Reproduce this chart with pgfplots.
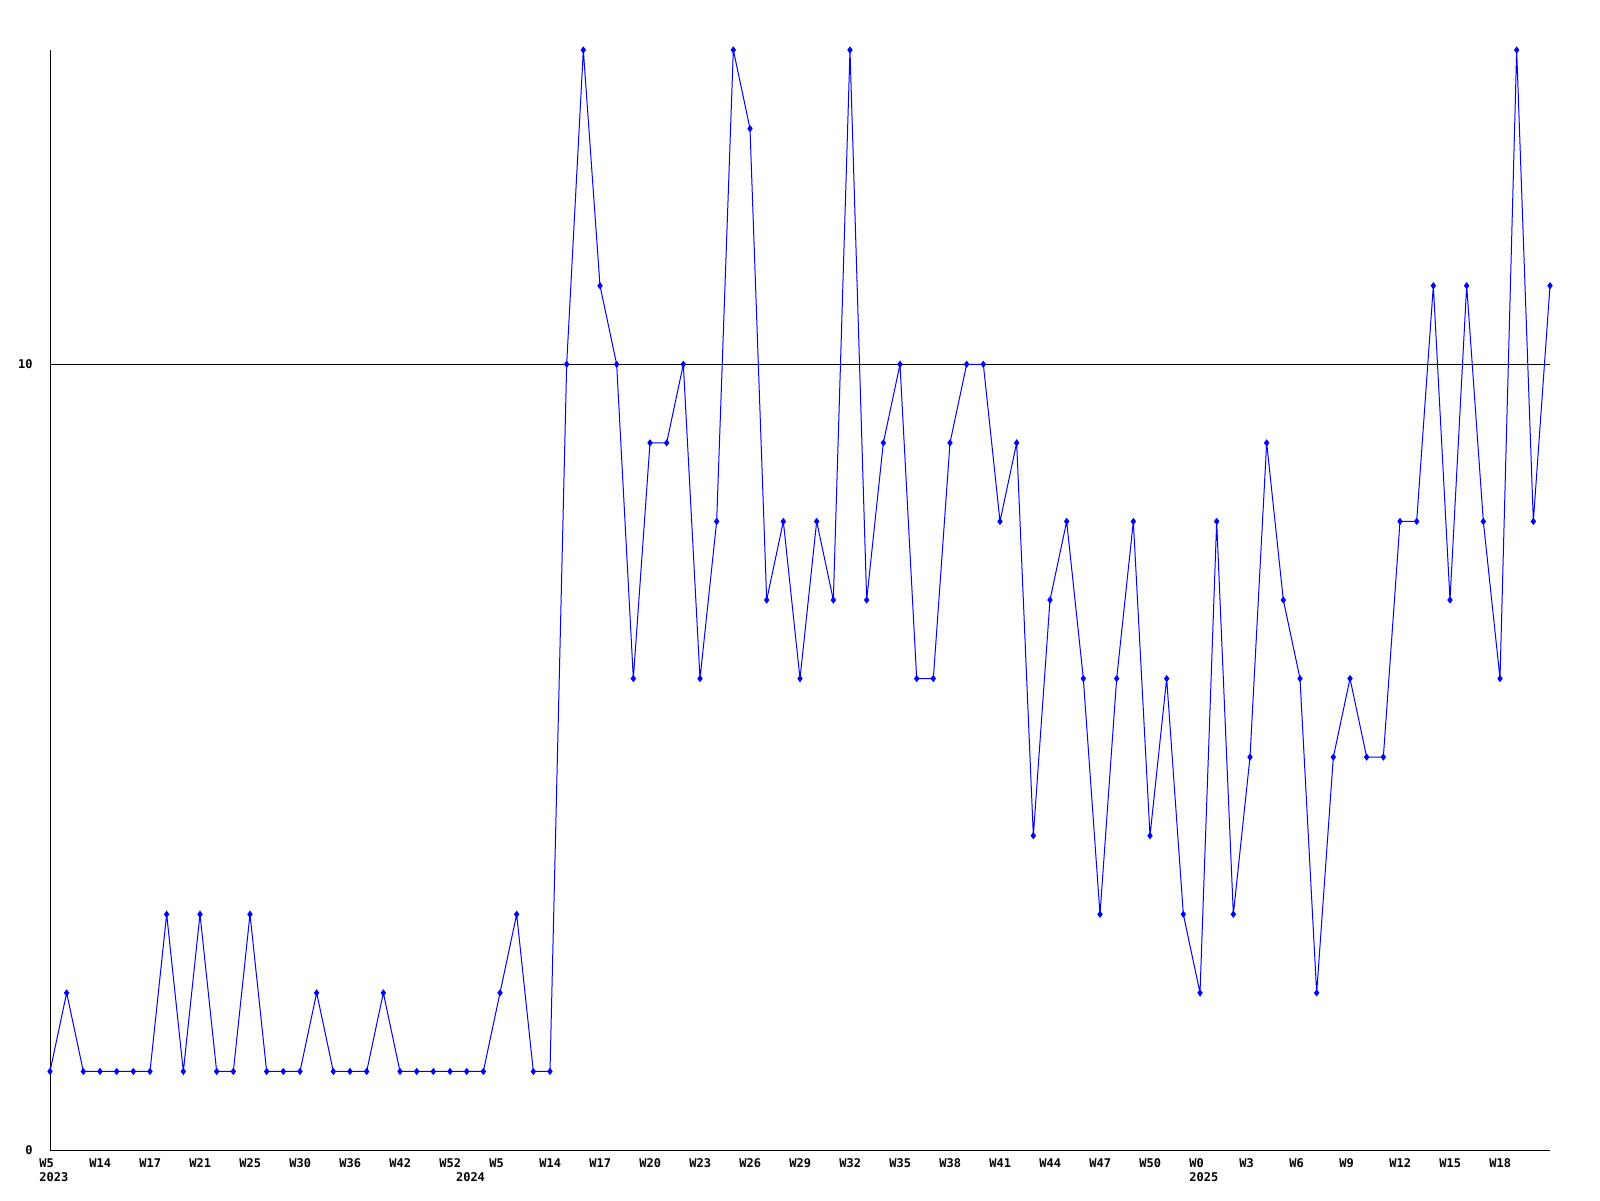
\documentclass[border=0pt]{standalone}
\usepackage{pgfplots}
\pgfplotsset{compat=1.18}
\usepackage{fontspec}
\setmonofont{DejaVu Sans Mono}
\definecolor{lineblue}{RGB}{0,0,255}
\begin{document}
\begin{tikzpicture}
\path[use as bounding box] (-25pt,-25pt) rectangle (775pt,575pt);
\begin{axis}[
  at={(0,0)}, anchor=south west,
  scale only axis, width=750pt, height=550pt,
  xmin=0, xmax=90, ymin=0, ymax=14,
  axis x line=bottom, axis y line=left,
  axis line style={-, black, line width=0.5pt},
  clip=false,
  major tick length=0pt,
  /pgf/number format/assume math mode=true,
  xtick={0,3,...,87},
  xticklabels={W5,W14,W17,W21,W25,W30,W36,W42,W52,W5,W14,W17,W20,W23,W26,W29,W32,W35,W38,W41,W44,W47,W50,W0,W3,W6,W9,W12,W15,W18},
  xticklabel style={font=\ttfamily\bfseries\fontsize{6}{7}\selectfont, anchor=north west, inner sep=0pt, xshift=-5.5pt, yshift=-4pt},
  extra x ticks={0,25,69},
  extra x tick labels={2023,2024,2025},
  extra x tick style={xticklabel style={yshift=-7.2pt}},
  ytick={0,10},
  yticklabels={0,10},
  yticklabel style={font=\ttfamily\bfseries\fontsize{6}{7}\selectfont, anchor=east, inner sep=0pt, xshift=-8.5pt},
]
\addplot[black, line width=0.5pt, no marks] coordinates {(0,10) (90,10)};
\addplot[lineblue, line width=0.5pt, mark=diamond*, mark size=1.4pt, mark options={solid, fill=lineblue}] coordinates {
(0,1)(1,2)(2,1)(3,1)(4,1)(5,1)(6,1)(7,3)(8,1)(9,3)
(10,1)(11,1)(12,3)(13,1)(14,1)(15,1)(16,2)(17,1)(18,1)(19,1)
(20,2)(21,1)(22,1)(23,1)(24,1)(25,1)(26,1)(27,2)(28,3)(29,1)
(30,1)(31,10)(32,14)(33,11)(34,10)(35,6)(36,9)(37,9)(38,10)(39,6)
(40,8)(41,14)(42,13)(43,7)(44,8)(45,6)(46,8)(47,7)(48,14)(49,7)
(50,9)(51,10)(52,6)(53,6)(54,9)(55,10)(56,10)(57,8)(58,9)(59,4)
(60,7)(61,8)(62,6)(63,3)(64,6)(65,8)(66,4)(67,6)(68,3)(69,2)
(70,8)(71,3)(72,5)(73,9)(74,7)(75,6)(76,2)(77,5)(78,6)(79,5)
(80,5)(81,8)(82,8)(83,11)(84,7)(85,11)(86,8)(87,6)(88,14)(89,8)
(90,11)};
\end{axis}
\end{tikzpicture}
\end{document}
